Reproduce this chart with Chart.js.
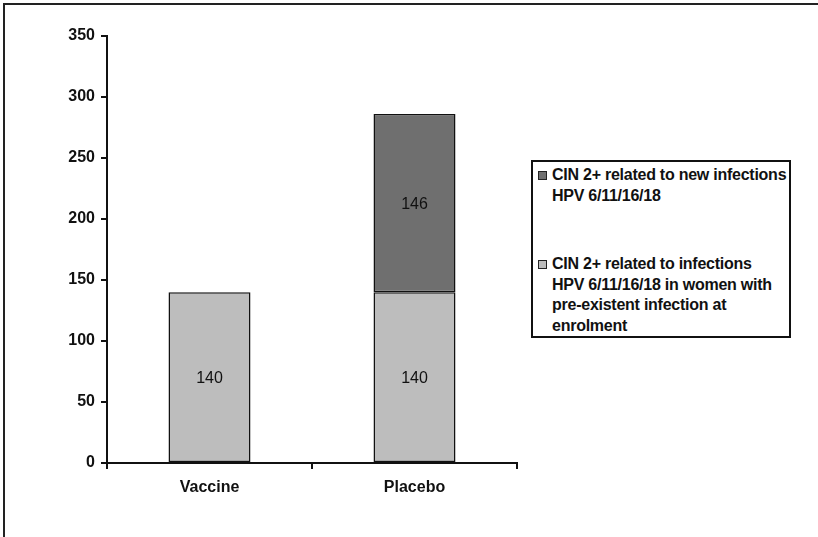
<!DOCTYPE html>
<html>
<head>
<meta charset="utf-8">
<script src="https://cdn.jsdelivr.net/npm/chart.js@4.4.1/dist/chart.umd.min.js"></script>
<style>
  html, body { margin: 0; padding: 0; background: #fff; }
  #wrap { position: relative; width: 818px; height: 537px; overflow: hidden; }
  #frame { position: absolute; left: 3px; top: 3px; width: 830px; height: 560px;
           border-top: 2px solid #222; border-left: 2px solid #222; box-sizing: border-box; }
  canvas { position: absolute; left: 0; top: 0; }
  #legend { position: absolute; left: 531px; top: 160px; width: 260px; height: 178px;
            border: 2px solid #111; box-sizing: border-box; background: #fff;
            font-family: "Liberation Sans", Arial, sans-serif; font-weight: bold;
            font-size: 16px; line-height: 20.5px; color: #111; letter-spacing: -0.25px;
            white-space: nowrap; }
  .entry { position: relative; padding-left: 19px; }
  .entry .box { position: absolute; left: 5px; top: 6px; width: 7px; height: 7px;
                border: 1px solid #222; }
</style>
</head>
<body>
<div id="wrap">
  <div id="frame"></div>
  <canvas id="chart" width="818" height="537"></canvas>
  <div id="legend"></div>
</div>
<script>
// Groups along the x axis
const categories = ['Vaccine', 'Placebo'];

// CIN 2+ cases, stacked per group
const preExistentCases = [140, 140];   // women with pre-existent infection at enrolment
const newInfectionCases = [null, 146]; // new HPV 6/11/16/18 infections

// Series names, one entry per printed line
const preExistentName = ['CIN 2+ related to infections', 'HPV 6/11/16/18 in women with', 'pre-existent infection at', 'enrolment'];
const newInfectionName = ['CIN 2+ related to new infections', 'HPV 6/11/16/18'];

// Value axis ticks
const yMin = 0, yMax = 350, yStep = 50;

const FONT = '"Liberation Sans", Arial, sans-serif';
const LIGHT = '#bdbdbd';
const DARK = '#6f6f6f';

const segmentLabels = {
  id: 'segmentLabels',
  afterDatasetsDraw(chart) {
    const ctx = chart.ctx;
    ctx.save();
    ctx.font = '16px ' + FONT;
    ctx.fillStyle = '#111';
    ctx.textAlign = 'center';
    ctx.textBaseline = 'middle';
    chart.data.datasets.forEach((ds, di) => {
      const meta = chart.getDatasetMeta(di);
      meta.data.forEach((bar, i) => {
        const v = ds.data[i];
        if (v === null || v === undefined) return;
        ctx.fillText(String(v), bar.x, (bar.y + bar.base) / 2 + 1);
      });
    });
    ctx.restore();
  }
};

const chart = new Chart(document.getElementById('chart'), {
  type: 'bar',
  data: {
    labels: categories,
    datasets: [
      { label: preExistentName.join(' '), data: preExistentCases, backgroundColor: LIGHT,
        borderColor: '#111', borderWidth: 1.5, borderSkipped: false },
      { label: newInfectionName.join(' '), data: newInfectionCases, backgroundColor: DARK,
        borderColor: '#111', borderWidth: 1.5, borderSkipped: false }
    ]
  },
  options: {
    responsive: false,
    animation: false,
    devicePixelRatio: 1,
    categoryPercentage: 1.0,
    barPercentage: 0.4,
    layout: { padding: { left: 0, right: 301, top: 36, bottom: 0 } },
    plugins: { legend: { display: false }, tooltip: { enabled: false } },
    scales: {
      x: {
        stacked: true,
        offset: true,
        afterFit(scale) { scale.height = 74; },
        grid: { display: true, drawOnChartArea: false, drawTicks: true, tickLength: 6,
                color: '#111', lineWidth: 2, offset: true },
        border: { display: true, color: '#111', width: 2 },
        ticks: { color: '#111', padding: 9, font: { family: FONT, size: 16, weight: 'bold' } }
      },
      y: {
        stacked: true,
        min: yMin, max: yMax,
        afterFit(scale) { scale.width = 107; },
        grid: { display: true, drawOnChartArea: false, drawTicks: true, tickLength: 6,
                color: '#111', lineWidth: 2 },
        border: { display: true, color: '#111', width: 2 },
        ticks: { stepSize: yStep, color: '#111', padding: 6,
                 font: { family: FONT, size: 16, weight: 'bold' } }
      }
    }
  },
  plugins: [segmentLabels]
});

// Legend box, listed top series first
const legend = document.getElementById('legend');
const entries = [
  { lines: newInfectionName, color: DARK, top: 3 },
  { lines: preExistentName, color: LIGHT, top: 48 }
];
entries.forEach(e => {
  const div = document.createElement('div');
  div.className = 'entry';
  div.style.marginTop = e.top + 'px';
  const box = document.createElement('span');
  box.className = 'box';
  box.style.background = e.color;
  div.appendChild(box);
  e.lines.forEach((line, k) => {
    if (k) div.appendChild(document.createElement('br'));
    div.appendChild(document.createTextNode(line));
  });
  legend.appendChild(div);
});
</script>
</body>
</html>
